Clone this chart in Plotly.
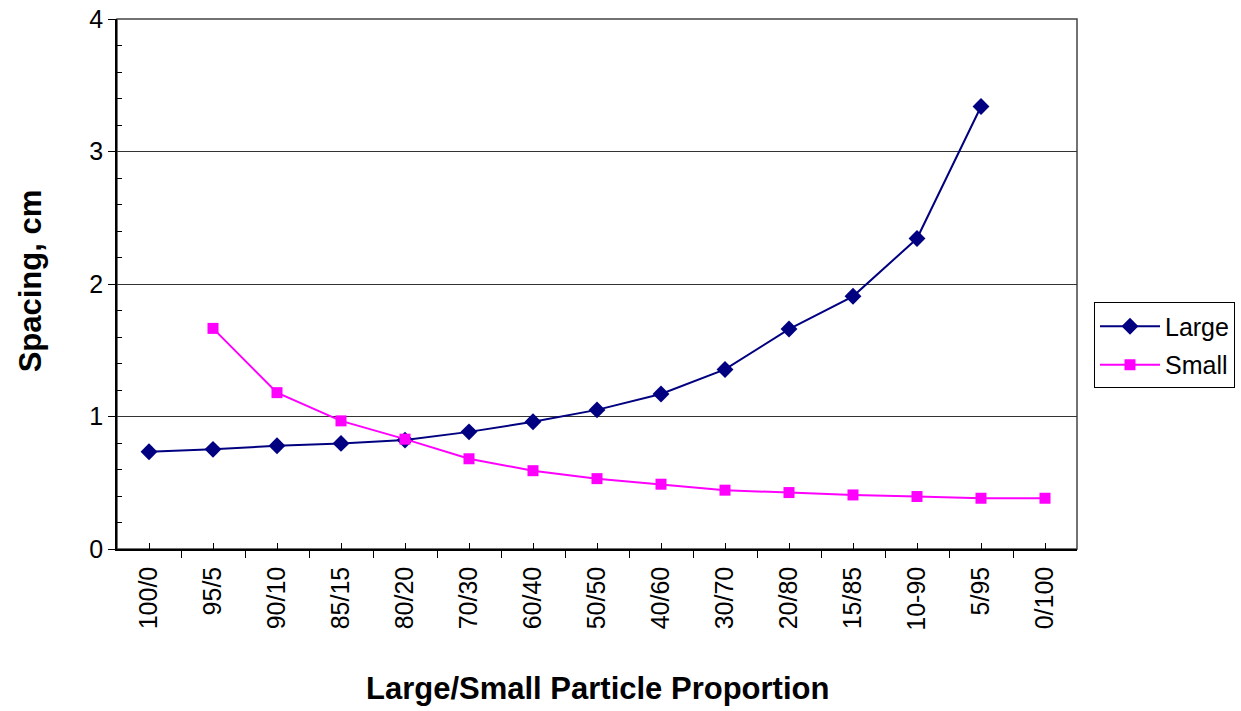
import plotly.graph_objects as go

categories = ["100/0", "95/5", "90/10", "85/15", "80/20", "70/30", "60/40", "50/50",
              "40/60", "30/70", "20/80", "15/85", "10-90", "5/95", "0/100"]
large = [0.734, 0.752, 0.779, 0.797, 0.822, 0.884, 0.96, 1.05, 1.17, 1.355, 1.66,
         1.907, 2.343, 3.34, None]
small = [None, 1.665, 1.18, 0.967, 0.829, 0.681, 0.591, 0.531, 0.489, 0.444, 0.426,
         0.408, 0.396, 0.383, 0.383]

xs = list(range(len(categories)))
FONT = "Arial, Liberation Sans, sans-serif"

fig = go.Figure()
fig.add_trace(go.Scatter(x=xs, y=large, name="Large", mode="lines+markers",
                         line=dict(color="#000080", width=2),
                         marker=dict(symbol="diamond", size=13, color="#000080"),
                         legendgroup="a"))
fig.add_trace(go.Scatter(x=xs, y=small, name="Small", mode="lines+markers",
                         line=dict(color="#FF00FF", width=2),
                         marker=dict(symbol="square", size=11, color="#FF00FF"),
                         legendgroup="b"))

fig.add_shape(type="rect", xref="paper", yref="paper", x0=0, x1=1, y0=0, y1=1,
              line=dict(color="#444", width=1.5), layer="below")

fig.update_layout(
    width=1241, height=711,
    margin=dict(l=117, r=164, t=19, b=162, autoexpand=False),
    paper_bgcolor="white", plot_bgcolor="white",
    font=dict(family=FONT, color="black"),
    showlegend=True,
    legend=dict(x=1.0177, xanchor="left", y=0.384, yanchor="middle",
                bordercolor="black", borderwidth=1, font=dict(size=25, family=FONT),
                tracegroupgap=3, bgcolor="white", itemwidth=60),
    xaxis=dict(range=[-0.5, 14.5], tickmode="array", tickvals=xs, ticktext=categories,
               tickangle=-90, tickfont=dict(size=25), ticks="inside", ticklen=6,
               tickcolor="black", showgrid=False, zeroline=False, automargin=False,
               showline=True, linecolor="black", linewidth=1.5,
               minor=dict(tickmode="array", tickvals=[i - 0.5 for i in range(16)],
                          ticks="outside", ticklen=7, tickcolor="black", showgrid=False),
               ticklabelstandoff=6),
    yaxis=dict(range=[0, 4], tickmode="array", tickvals=[0, 1, 2, 3, 4],
               tickfont=dict(size=25), ticks="outside", ticklen=7, tickcolor="black",
               showgrid=True, gridcolor="#333", gridwidth=1, zeroline=False,
               showline=True, linecolor="black", linewidth=1.5, automargin=False,
               minor=dict(tickmode="array", tickvals=[0.2, 0.4, 0.6, 0.8, 1.2, 1.4, 1.6, 1.8,
                                                      2.2, 2.4, 2.6, 2.8, 3.2, 3.4, 3.6, 3.8],
                          ticks="inside", ticklen=5, tickcolor="black", showgrid=False)),
    annotations=[
        dict(text="<b>Large/Small Particle Proportion</b>", xref="paper", yref="paper",
             x=0.501, y=-0.264, xanchor="center", yanchor="middle", showarrow=False,
             font=dict(size=31, family=FONT)),
        dict(text="<b>Spacing, cm</b>", xref="paper", yref="paper",
             x=(30 - 117) / 960, y=0.505, xanchor="center", yanchor="middle",
             textangle=-90, showarrow=False, font=dict(size=31, family=FONT)),
    ],
)

fig.write_html("out.html")
